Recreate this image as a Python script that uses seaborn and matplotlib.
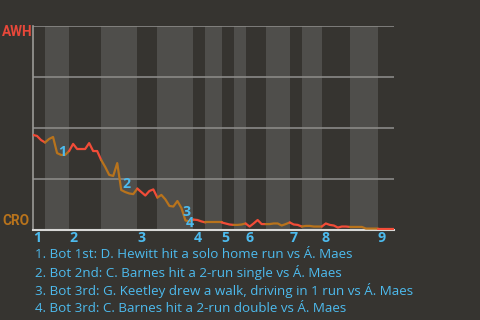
import matplotlib
matplotlib.use("Agg")
import matplotlib.pyplot as plt
import seaborn as sns
import numpy as np
import pandas as pd

# ---- data ----
away_team = "AWH"
home_team = "CRO"
# plate appearances per half-inning (top 1st, bot 1st, ..., top 9th)
pa_per_half = [3, 6, 8, 9, 5, 9, 3, 4, 3, 3, 5, 6, 3, 5, 7, 7, 4]
# AWH win probability (%) after each event
wp = [46.6, 46.1, 44.1, 42.9, 44.6, 45.6, 37.7, 36.8, 36.8, 38.7,
      42.2, 39.7, 39.7, 39.7, 42.6, 38.7, 38.7, 34.3, 30.9, 27.0,
      26.5, 32.8, 19.6, 18.6, 17.9, 17.6, 20.3, 18.6, 16.9, 19.1,
      19.9, 15.9, 17.2, 15.0, 11.8, 11.5, 14.2, 10.8, 4.7, 4.2,
      5.1, 4.9, 4.2, 3.7, 3.7, 3.7, 3.7, 3.7, 3.2, 2.7,
      2.5, 2.5, 2.7, 3.2, 1.7, 3.2, 4.9, 2.9, 2.9, 2.9,
      3.2, 3.2, 2.2, 2.9, 3.7, 2.7, 2.5, 1.7, 2.0, 2.0,
      1.7, 1.7, 1.7, 3.2, 2.5, 2.2, 1.2, 1.7, 1.7, 1.5,
      1.5, 1.5, 1.5, 0.7, 0.7, 0.7, 0.7, 0.7, 0.7, 0.7, 0.7]
inning_labels = ["1", "2", "3", "4", "5", "6", "7", "8", "9"]
event_labels = ["1", "2", "3", "4"]
event_x = [6.2, 22.2, 37.2, 38.0]
event_y = [38.2, 22.7, 9.0, 3.3]
captions = [
    "1. Bot 1st: D. Hewitt hit a solo home run vs \u00c1. Maes",
    "2. Bot 2nd: C. Barnes hit a 2-run single vs \u00c1. Maes",
    "3. Bot 3rd: G. Keetley drew a walk, driving in 1 run vs \u00c1. Maes",
    "4. Bot 3rd: C. Barnes hit a 2-run double vs \u00c1. Maes",
]

# ---- style ----
BG = "#363430"
BAND = "#4f4e4b"
GRID = "#8a8987"
RED = "#f24c38"
ORANGE = "#b8731c"
BLUE = "#4dbbee"

sns.set_theme(style="dark")
plt.rcParams["font.family"] = ["Open Sans", "DejaVu Sans"]

fig = plt.figure(figsize=(4.8, 3.2), dpi=100, facecolor=BG)
ax = fig.add_axes([33 / 480, 1 - 230 / 320, 361 / 480, 204 / 320])
ax.set_facecolor(BG)

bounds = np.concatenate([[0], np.cumsum(pa_per_half)])
n = bounds[-1]

# shaded bands for bottom halves
for k in range(len(pa_per_half)):
    if k % 2 == 1:
        ax.axvspan(bounds[k], bounds[k + 1], color=BAND, lw=0, zorder=0)

# grid lines
for g in [25, 50, 75, 100]:
    ax.axhline(g, color=GRID, lw=1.2, zorder=1)

# line, segment per half inning
df = pd.DataFrame({"x": np.arange(len(wp)), "wp": wp})
for k in range(len(pa_per_half)):
    seg = df.iloc[bounds[k]:bounds[k + 1] + 1]
    sns.lineplot(data=seg, x="x", y="wp", ax=ax, color=RED if k % 2 == 0 else ORANGE,
                 lw=1.6, zorder=3, legend=False)

for lab, ex, ey in zip(event_labels, event_x, event_y):
    ax.text(ex, ey, lab, color=BLUE, fontsize=10.2, fontweight="bold",
            ha="left", va="center", zorder=4)

ax.set_xlim(0, n)
ax.set_ylim(0, 100)
ax.set_xlabel("")
ax.set_ylabel("")
ax.set_yticks([])
inning_starts = bounds[0:len(bounds):2][:len(inning_labels)]
ax.set_xticks(inning_starts)
ax.set_xticklabels(inning_labels, color=BLUE, fontsize=10.2, fontweight="bold", ha="left")
ax.tick_params(axis="x", length=0, pad=1.0)
for s in ["top", "right"]:
    ax.spines[s].set_visible(False)
ax.spines["left"].set_color("#9a9996")
ax.spines["left"].set_linewidth(1.2)
ax.spines["bottom"].set_color("#d8d8d6")
ax.spines["bottom"].set_linewidth(1.5)
ax.grid(False)

fig.text(2 / 480, 1 - 32.5 / 320, away_team, color="#e8483a", fontsize=9.8,
         fontweight="bold", ha="left", va="center", family=["Roboto", "DejaVu Sans"])
fig.text(2 / 480, 1 - 221 / 320, home_team, color=ORANGE, fontsize=9.8,
         fontweight="bold", ha="left", va="center", family=["Roboto", "DejaVu Sans"])

for i, c in enumerate(captions):
    fig.text(35 / 480, 1 - (254 + 18 * i) / 320, c, color=BLUE, fontsize=9.6,
             ha="left", va="center")

fig.savefig("out.png", dpi=100, facecolor=BG)
